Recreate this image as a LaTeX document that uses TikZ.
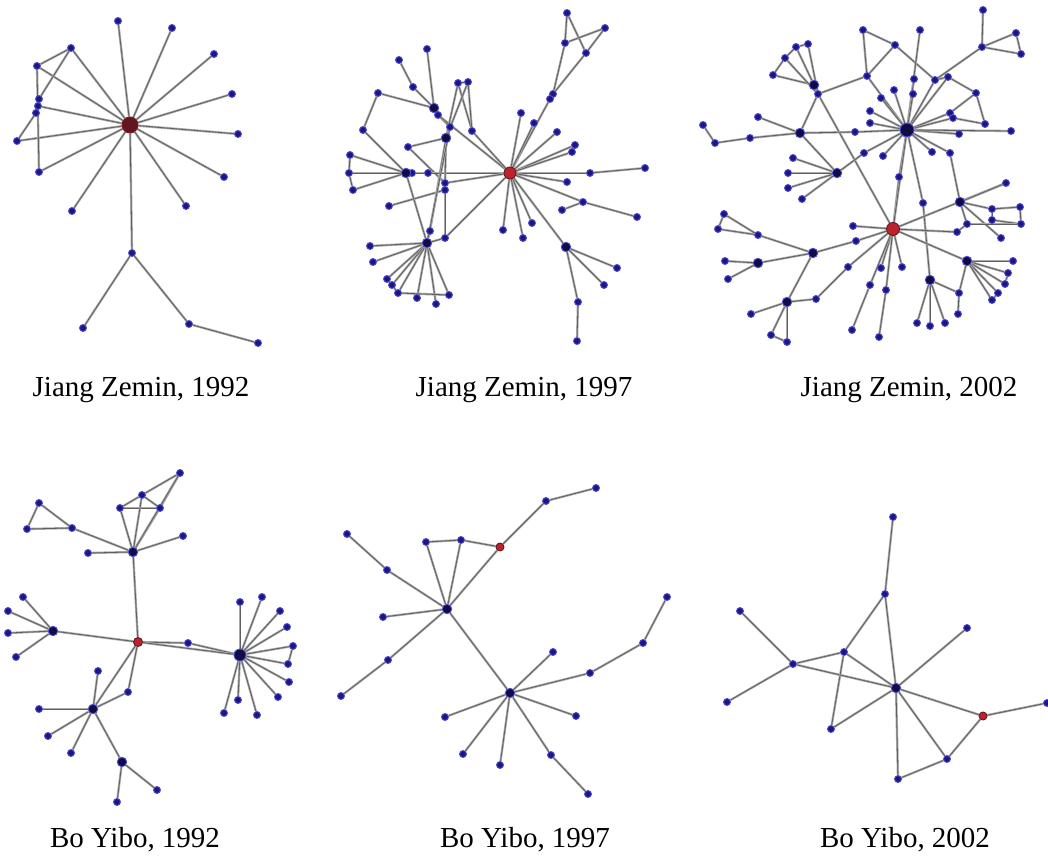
\documentclass[tikz,border=0pt]{standalone}
\usepackage{fontspec}
\setmainfont{Liberation Serif}
\usetikzlibrary{backgrounds}
\definecolor{nodefill}{RGB}{30,22,128}
\definecolor{nodeedge}{RGB}{80,80,215}
\definecolor{edgelight}{RGB}{170,170,170}
\definecolor{edgecore}{RGB}{95,95,95}
\definecolor{hubdark}{RGB}{18,12,70}
\definecolor{hubred}{RGB}{190,35,45}
\definecolor{hubmaroon}{RGB}{95,25,30}
\begin{document}
\begin{tikzpicture}[x=1pt,y=-1pt,
  v/.style={circle,fill=nodefill,draw=nodeedge,line width=0.9pt,inner sep=0pt,minimum size=7pt},
  dhub/.style={circle,fill=hubdark,draw=nodeedge,line width=0.9pt,inner sep=0pt,minimum size=9.5pt},
  rhub/.style={circle,fill=hubred,draw=hubmaroon,line width=0.9pt,inner sep=0pt,minimum size=#1},
  edge/.style={preaction={draw=edgelight,line width=2.3pt},draw=edgecore,line width=0.8pt},
  caption/.style={anchor=base,font=\fontsize{29}{34}\selectfont,inner sep=0pt}]
\useasboundingbox (0,0) rectangle (1048,856);
\begin{scope}[on background layer]
\fill[white] (0,0) rectangle (1048,856);
\end{scope}

% ---------------- Panel 1: Jiang Zemin 1992
\node[circle,fill=hubmaroon,draw=hubred!70!black,line width=1pt,inner sep=0pt,minimum size=16pt] (A0) at (130,125) {};
\foreach \n/\x/\y in {A1/118/21,A2/172/28,A3/214/54,A4/232/94,A5/238/134,A6/224/177,A7/186/206,
  A8/72/211,A9/39/172,A10/17/141,A11/39/99,A12/38/106,A13/36/113,A14/37/66,A15/71/48,
  A16/132/253,A17/83/328,A18/189/324,A19/258/343}
  \node[v] (\n) at (\x,\y) {};
\begin{scope}[on background layer]
\foreach \a/\b in {A0/A1,A0/A2,A0/A3,A0/A4,A0/A5,A0/A6,A0/A7,A0/A8,A0/A9,A0/A10,A0/A12,A0/A14,A0/A15,A0/A16,
  A14/A15,A15/A11,A14/A9,A10/A13,A16/A17,A16/A18,A18/A19}
  \draw[edge] (\a) -- (\b);
\end{scope}
\node[caption] (L1) at (141,396) {Jiang Zemin, 1992};

% ---------------- Panel 2: Jiang Zemin 1997
\node[rhub=12pt] (B0) at (510,173) {};
\foreach \n/\x/\y in {B1/567/13,B2/605/28,B3/565/43,B4/586/53,B5/553/94,B6/550/99,B7/534/123,B8/521/113,
  B9/557/132,B10/575/145,B11/572/152,B12/645/168,B13/590/173,B14/567/182,B15/583/202,B16/562/210,
  B17/637/217,B18/532/223,B19/503/230,B20/523/238,B22/617/268,B23/604/285,B24/578/302,B25/577/341,
  C1/427/49,C2/399/60,C3/413/87,C4/378/93,C5/458/83,C6/468/82,C8/438/115,C9/450/127,C11/472/131,
  C12/363/130,C13/408/147,C14/350/155,C15/349/173,C16/353/190,C18/412/173,C19/428/173,C20/445/183,
  C21/445/190,C22/389/206,C23/430/231,C25/445/238,C26/370/246,C27/373/262,C28/387/279,C29/392/285,
  C30/398/293,C31/417/298,C32/436/304,C33/449/295}
  \node[v] (\n) at (\x,\y) {};
\foreach \n/\x/\y in {B21/566/247,C7/434/108,C10/446/138,C17/406/173,C24/427/243}
  \node[dhub] (\n) at (\x,\y) {};
\begin{scope}[on background layer]
\foreach \a/\b in {B0/B6,B6/B5,B5/B3,B5/B4,B1/B3,B1/B4,B3/B2,B2/B4,B0/B7,B0/B8,B0/B9,B0/B10,B10/B11,B0/B11,
  B0/B13,B13/B12,B0/B14,B0/B15,B15/B17,B15/B16,B0/B18,B0/B19,B0/B20,B0/B21,B21/B22,B21/B23,B21/B24,B24/B25,
  C1/C7,C2/C3,C3/C7,C4/C7,C4/C12,C12/C17,C7/C8,C8/C9,C8/B0,C11/B0,C5/C6,C5/C10,C5/C11,C6/C11,C6/C10,C10/C9,
  C13/C10,C13/C20,C14/C17,C15/C17,C16/C17,C14/C15,C15/C16,C17/C18,C18/C19,C19/B0,C20/B0,C20/C21,C22/C21,
  C10/C20,C21/C25,C23/C10,C23/C24,C17/C24,C25/B0,C24/C25,C24/C26,C24/C27,C24/C28,C24/C29,C24/C30,C24/C31,
  C24/C32,C24/C33,C28/C29,C29/C30,C30/C33,C9/C24}
  \draw[edge] (\a) -- (\b);
\end{scope}
\node[caption] (L2) at (524,396) {Jiang Zemin, 1997};

% ---------------- Panel 3: Jiang Zemin 2002
\node[circle,fill=hubdark,draw=nodeedge,line width=1pt,inner sep=0pt,minimum size=14pt] (D0) at (907,130) {};
\node[rhub=13pt] (E0) at (893,229) {};
\foreach \n/\x/\y in {D1/983/10,D2/982/47,D3/1016/33,D4/1021/54,D5/863/30,D6/920/30,D7/895/45,D8/867/76,
  D9/935/80,D10/948/77,D11/914/79,D12/894/90,D13/913/94,D14/881/98,D15/976/93,D16/870/111,D17/950/113,
  D18/953/118,D19/985/124,D20/870/123,D21/855/132,D22/959/134,D23/1011/131,D24/864/153,D25/883/156,
  D26/932/152,D27/950/153,
  D30/796/47,D31/808/44,D32/785/58,D33/773/75,D35/818/94,D36/758/117,D37/703/125,D38/715/143,D39/750/138,
  D41/793/158,D42/788/173,D44/788/188,D45/802/199,
  E1/899/177,E2/923/203,E4/1006/183,E5/992/209,E6/992/220,E7/1020/207,E8/1021/224,E9/967/224,E10/957/232,
  E11/1001/238,E12/853/226,E13/856/241,E15/758/235,E16/724/214,E17/718/229,E18/725/261,E20/728/279,
  E21/848/267,E22/881/268,E23/902/267,E24/870/285,E25/886/290,E26/852/330,E27/879/337,E29/917/323,
  E30/930/326,E31/945/323,E32/959/293,E33/958/314,E35/1013/261,E36/1008/273,E37/1005/284,E38/998/293,
  E39/992/300,E40/816/299,E42/751/314,E43/771/335,E44/787/342}
  \node[v] (\n) at (\x,\y) {};
\foreach \n/\x/\y in {D34/814/85,D40/800/133,D43/837/173,E3/960/202,E14/813/253,E19/758/263,E28/930/280,
  E34/967/261,E41/787/302}
  \node[dhub] (\n) at (\x,\y) {};
\begin{scope}[on background layer]
\foreach \a/\b in {D1/D2,D2/D3,D3/D4,D2/D4,D2/D9,D5/D7,D5/D8,D7/D8,D7/D9,D9/D10,D10/D15,D15/D19,D15/D17,
  D17/D18,D18/D19,D6/D0,D8/D35,D8/D0,
  D0/D11,D0/D12,D0/D13,D0/D14,D0/D16,D0/D20,D0/D21,D0/D17,D0/D18,D0/D22,D0/D23,D0/D26,D0/D27,D0/D24,D0/D25,
  D0/D9,D0/D10,
  D30/D31,D30/D32,D32/D33,D33/D34,D30/D34,D31/D35,D32/D35,D34/D35,D35/D40,D35/E0,D37/D38,D38/D39,D39/D40,
  D36/D40,D40/D21,D40/D43,D41/D43,D42/D43,D44/D43,D45/D43,D43/D24,
  D0/E1,E1/E0,D0/E2,E2/E28,D27/E3,D0/E0,
  E0/E4,E3/E4,E3/E5,E5/E6,E6/E8,E5/E7,E7/E8,E3/E11,E3/E9,E0/E10,E10/E9,E9/E8,E0/E12,E0/E13,E13/E14,
  E14/E15,E15/E16,E16/E17,E17/E15,E14/E19,E19/E18,E19/E20,E14/E41,E40/E21,E21/E0,E41/E42,E41/E43,E41/E44,
  E43/E44,E41/E40,E0/E22,E0/E23,E0/E24,E24/E26,E0/E25,E25/E27,E0/E34,E34/E35,E34/E36,E34/E37,E34/E38,
  E34/E39,E34/E32,E32/E33,E28/E29,E28/E30,E28/E31,E28/E32,E36/E37,E38/E39}
  \draw[edge] (\a) -- (\b);
\end{scope}
\node[caption] (L3) at (909,396) {Jiang Zemin, 2002};

% ---------------- Panel 4: Bo Yibo 1992
\node[rhub=9pt] (F0) at (138,642) {};
\node[circle,fill=hubdark,draw=nodeedge,line width=0.9pt,inner sep=0pt,minimum size=12pt] (F17) at (240,655) {};
\foreach \n/\x/\y in {F1/180/473,F2/142/495,F3/120/508,F4/160/508,F5/39/503,F6/27/529,F7/72/528,F8/183/536,
  F9/88/553,F11/23/597,F12/8/611,F13/8/633,F14/16/657,F16/188/643,
  G1/240/602,G2/262/597,G3/280/611,G4/287/627,G5/293/646,G6/288/664,G7/289/682,G8/278/697,G9/257/715,
  G10/238/700,G11/224/713,
  H1/98/671,H2/128/692,H4/39/709,H5/48/736,H6/71/753,H8/157/790,H9/117/802}
  \node[v] (\n) at (\x,\y) {};
\foreach \n/\x/\y in {F10/133/552,F15/53/631,H3/93/709,H7/122/762}
  \node[dhub] (\n) at (\x,\y) {};
\begin{scope}[on background layer]
\foreach \a/\b in {F1/F2,F1/F4,F2/F3,F2/F4,F3/F4,F10/F3,F10/F2,F10/F4,F10/F1,F5/F6,F5/F7,F6/F7,F7/F10,
  F9/F10,F8/F10,F10/F0,F15/F11,F15/F12,F15/F13,F15/F14,F15/F0,F0/F16,F16/F17,F0/F17,
  F17/G1,F17/G2,F17/G3,F17/G4,F17/G5,F17/G6,F17/G7,F17/G8,F17/G9,F17/G10,F17/G11,G5/G6,
  F0/H3,F0/H2,H2/H3,H1/H3,H3/H4,H3/H5,H3/H6,H3/H7,H7/H8,H7/H9}
  \draw[edge] (\a) -- (\b);
\end{scope}
\node[caption] (L4) at (135,847) {Bo Yibo, 1992};

% ---------------- Panel 5: Bo Yibo 1997
\node[rhub=8pt] (I3) at (500,547) {};
\foreach \n/\x/\y in {I1/596/488,I2/546/501,I4/426/542,I5/461/540,I6/347/534,I7/387/570,I9/383/617,
  I10/388/660,I11/341/696,J1/553/652,J2/590/673,J3/643/643,J4/667/597,J5/445/717,J6/576/716,J7/463/754,
  J8/500/765,J9/551/755,J10/588/794}
  \node[v] (\n) at (\x,\y) {};
\foreach \n/\x/\y in {I8/447/609,J0/510/693}
  \node[dhub] (\n) at (\x,\y) {};
\begin{scope}[on background layer]
\foreach \a/\b in {I1/I2,I2/I3,I3/I5,I5/I4,I4/I8,I5/I8,I3/I8,I6/I7,I7/I8,I9/I8,I8/I10,I10/I11,I8/J0,
  J0/J1,J0/J2,J2/J3,J3/J4,J0/J5,J0/J6,J0/J7,J0/J8,J0/J9,J9/J10}
  \draw[edge] (\a) -- (\b);
\end{scope}
\node[caption] (L5) at (525,847) {Bo Yibo, 1997};

% ---------------- Panel 6: Bo Yibo 2002
\node[rhub=8pt] (K10) at (983,716) {};
\foreach \n/\x/\y in {K1/893/517,K2/885/594,K3/967/628,K4/740/611,K5/844/652,K6/793/664,K7/727/702,
  K9/831/729,K11/1047/703,K12/947/759,K13/898/779}
  \node[v] (\n) at (\x,\y) {};
\node[dhub] (K8) at (896,688) {};
\begin{scope}[on background layer]
\foreach \a/\b in {K1/K2,K2/K5,K2/K8,K3/K8,K4/K6,K6/K7,K6/K5,K6/K8,K5/K8,K5/K9,K9/K8,K8/K10,K10/K11,
  K8/K12,K12/K10,K8/K13,K13/K12}
  \draw[edge] (\a) -- (\b);
\end{scope}
\node[caption] (L6) at (905,847) {Bo Yibo, 2002};
\end{tikzpicture}
\end{document}
